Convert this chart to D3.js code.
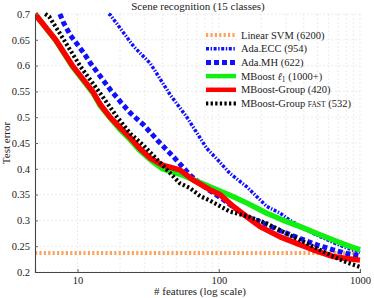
<!DOCTYPE html>
<html>
<head>
<meta charset="utf-8">
<script src="https://cdn.jsdelivr.net/npm/d3@7"></script>
<style>
body { margin: 0; background: #fff; }
text { font-family: "Liberation Serif", "DejaVu Serif", serif; fill: #222; }
</style>
</head>
<body>
<div id="chart"></div>
<script>
var width = 374
var height = 298

// values
var svm_x = [5, 1000]
var svm_y = [0.237, 0.237]

var ecc_x = [16.6, 17.1, 25, 32.8, 45.4, 59.5, 82, 100, 120, 158, 219, 272, 320, 466, 647, 800, 1000]
var ecc_y = [0.70, 0.698, 0.637, 0.604, 0.543, 0.50, 0.44, 0.415, 0.391, 0.365, 0.327, 0.314, 0.30, 0.275, 0.257, 0.247, 0.238]

var mh_x = [7.5, 8, 8.9, 11.1, 12.4, 17.1, 20.1, 23.7, 29.4, 36.6, 47.9, 63, 82, 108, 158, 219, 272, 377, 500, 647, 800, 1000]
var mh_y = [0.70, 0.682, 0.659, 0.624, 0.604, 0.553, 0.53, 0.508, 0.485, 0.456, 0.423, 0.387, 0.362, 0.34, 0.307, 0.292, 0.28, 0.265, 0.252, 0.243, 0.236, 0.231]

var l1_x = [5, 7, 9.2, 12.8, 14.5, 17, 20, 23.7, 27.5, 33, 40, 55, 70, 100, 127, 160, 219, 300, 377, 500, 647, 800, 1000]
var l1_y = [0.70, 0.649, 0.598, 0.548, 0.522, 0.499, 0.476, 0.456, 0.436, 0.417, 0.40, 0.388, 0.376, 0.358, 0.346, 0.333, 0.314, 0.298, 0.288, 0.274, 0.262, 0.252, 0.243]

var grp_x = [5, 7, 9.2, 12.8, 14.5, 17, 20, 23.7, 27.5, 33, 40, 53, 66, 87, 102, 127, 158, 196, 272, 360, 466, 647, 800, 1000]
var grp_y = [0.70, 0.65, 0.60, 0.55, 0.525, 0.50, 0.48, 0.46, 0.44, 0.42, 0.407, 0.398, 0.378, 0.359, 0.35, 0.327, 0.307, 0.288, 0.268, 0.255, 0.243, 0.23, 0.226, 0.223]

var fast_x = [5.9, 6.3, 8, 10.5, 14.5, 19, 23.7, 29.4, 36, 43, 53, 63, 74, 87, 120, 160, 219, 300, 377, 500, 647, 800, 1000]
var fast_y = [0.70, 0.695, 0.65, 0.598, 0.546, 0.501, 0.468, 0.445, 0.42, 0.398, 0.372, 0.362, 0.347, 0.338, 0.317, 0.308, 0.294, 0.275, 0.262, 0.245, 0.23, 0.219, 0.21]

var y_ticks = [0.2, 0.25, 0.3, 0.35, 0.4, 0.45, 0.5, 0.55, 0.6, 0.65, 0.7]
var x_ticks = [10, 100, 1000]
var x_minor = [20, 30, 40, 50, 60, 70, 80, 90, 200, 300, 400, 500, 600, 700, 800, 900]

var series = [
	{name: "Linear SVM (6200)", xs: svm_x, ys: svm_y, color: "#ffa35c", w: 4, dash: "2.2,2.2"},
	{name: "Ada.ECC (954)", xs: ecc_x, ys: ecc_y, color: "#1010ff", w: 3.5, dash: "3,1.6,1.4,1.6"},
	{name: "Ada.MH (622)", xs: mh_x, ys: mh_y, color: "#1010ff", w: 5, dash: "5,3"},
	{name: "l1", xs: l1_x, ys: l1_y, color: "#11ee11", w: 5.5, dash: null},
	{name: "MBoost-Group (420)", xs: grp_x, ys: grp_y, color: "#ff0000", w: 5.5, dash: null},
	{name: "fast", xs: fast_x, ys: fast_y, color: "#000000", w: 4.2, dash: "2.3,2.3"}
]

var m_left = 35, m_right = 360, m_top = 14, m_bottom = 272

var x = d3.scaleLog().domain([5, 1000]).range([m_left, m_right])
var y = d3.scaleLinear().domain([0.2, 0.7]).range([m_bottom, m_top])

var svg = d3.select("#chart")
	.append("svg")
	.attr("width", width)
	.attr("height", height)

svg.append("defs").append("clipPath")
	.attr("id", "clip")
	.append("rect")
	.attr("x", m_left).attr("y", m_top - 3)
	.attr("width", m_right - m_left + 4).attr("height", m_bottom - m_top + 3)

// grid
var grid = svg.append("g").attr("stroke", "#e2e2e2").attr("stroke-width", 0.7).attr("stroke-dasharray", "2,2")
x_ticks.concat(x_minor).forEach(function(t) {
	grid.append("line").attr("x1", x(t)).attr("x2", x(t)).attr("y1", m_top).attr("y2", m_bottom)
})
y_ticks.forEach(function(t) {
	grid.append("line").attr("x1", m_left).attr("x2", m_right).attr("y1", y(t)).attr("y2", y(t))
})

// lines
var line = d3.line()
	.x(function(d) { return x(d[0]) })
	.y(function(d) { return y(d[1]) })

var plot = svg.append("g").attr("clip-path", "url(#clip)")
series.forEach(function(s) {
	var pts = s.xs.map(function(v, i) { return [v, s.ys[i]] })
	plot.append("path")
		.attr("d", line(pts))
		.attr("fill", "none")
		.attr("stroke", s.color)
		.attr("stroke-width", s.w)
		.attr("stroke-dasharray", s.dash)
		.attr("stroke-linejoin", "round")
})

// axes
var yAxis = d3.axisLeft(y).tickValues(y_ticks).tickSize(-3).tickPadding(5)
	.tickFormat(function(d) { return d3.format("")(+d.toFixed(2)) })
var gy = svg.append("g").attr("transform", "translate(" + m_left + ",0)").call(yAxis)
var xAxis = d3.axisBottom(x).tickValues(x_ticks).tickSize(-3).tickPadding(5).tickFormat(d3.format("d"))
var gx = svg.append("g").attr("transform", "translate(0," + m_bottom + ")").call(xAxis)

;[gx, gy].forEach(function(g) {
	g.select(".domain").attr("stroke", "#444").attr("stroke-width", 1.1)
	g.selectAll(".tick line").attr("stroke", "#666")
	g.selectAll("text").style("font-family", "Liberation Serif").attr("font-size", 10.5).attr("fill", "#222")
})

// labels
svg.append("text").attr("x", 198).attr("y", 10).attr("text-anchor", "middle")
	.attr("font-size", 11).text("Scene recognition (15 classes)")
svg.append("text").attr("x", 200).attr("y", 295).attr("text-anchor", "middle")
	.attr("font-size", 11).text("# features (log scale)")
svg.append("text").attr("transform", "translate(10,143) rotate(-90)").attr("text-anchor", "middle")
	.attr("font-size", 11).text("Test error")

// legend
var leg = svg.append("g")
series.forEach(function(s, i) {
	var ly = 35 + i * 13.7
	leg.append("line")
		.attr("x1", 206).attr("x2", 236).attr("y1", ly).attr("y2", ly)
		.attr("stroke", s.color).attr("stroke-width", s.w > 5 ? 4.5 : s.w)
		.attr("stroke-dasharray", s.dash)
	var t = leg.append("text").attr("x", 241).attr("y", ly + 3.5).attr("font-size", 10.5)
	if (s.name == "l1") {
		t.append("tspan").text("MBoost ")
		t.append("tspan").attr("font-style", "italic").text("ℓ")
		t.append("tspan").attr("font-size", 7.5).attr("dy", 2).text("1")
		t.append("tspan").attr("dy", -2).text(" (1000+)")
	} else if (s.name == "fast") {
		t.append("tspan").text("MBoost-Group ")
		t.append("tspan").attr("font-size", 7.5).text("FAST")
		t.append("tspan").text(" (532)")
	} else {
		t.text(s.name)
	}
})
</script>
</body>
</html>
